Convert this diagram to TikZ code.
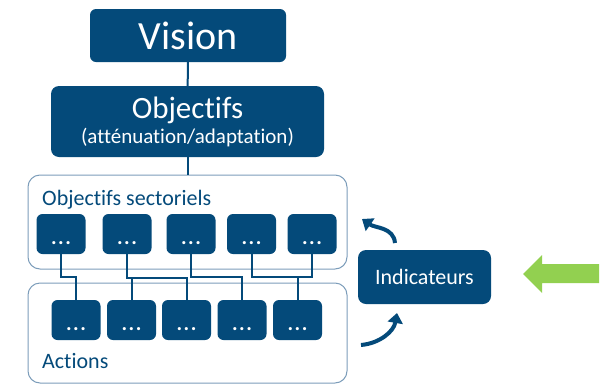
\documentclass[tikz,border=0pt]{standalone}
\usepackage{fontspec}
\setmainfont{Carlito}[Ligatures=NoCommon]
\usetikzlibrary{arrows.meta}
\definecolor{PlanBlue}{HTML}{044A7A}
\definecolor{PlanFrame}{HTML}{7C9DBA}
\definecolor{PlanGreen}{HTML}{92D050}

\begin{document}
\begin{tikzpicture}[x=1pt,y=-1pt,
    box/.style={fill=PlanBlue,text=white,rounded corners=6pt,align=center,inner sep=0pt},
    dots/.style={box,minimum width=49pt,minimum height=40pt,text height=20pt,text depth=0pt,
      font=\fontsize{21}{21}\selectfont\bfseries},
    frame/.style={draw=PlanFrame,line width=1pt,rounded corners=12pt,minimum width=319pt},
    heading/.style={anchor=base west,text=PlanBlue,inner sep=0pt,font=\fontsize{22}{22}\selectfont},
    link/.style={draw=PlanBlue,line width=2pt},
    loop/.style={-{Triangle[length=10pt,width=15pt]},draw=PlanBlue,line width=4pt}
  ]
  \useasboundingbox (0,0) rectangle (613,386);

  \node[box,minimum width=196pt,minimum height=53pt,font=\fontsize{40}{40}\selectfont]
    (vision) at (188,35.5) {Vision};
  \node[box,rounded corners=8pt,minimum width=273pt,minimum height=71pt,
    font=\fontsize{31}{31}\selectfont] (obj) at (187.5,121.5)
    {Objectifs\\[-6pt]{\fontsize{21}{24}\selectfont (atténuation/adaptation)}};
  \draw[link] (vision) -- (obj);

  % frames
  \node[frame,minimum height=94pt] (secframe) at (187.5,222) {};
  \node[frame,minimum height=100pt] (actframe) at (187.5,333) {};
  \node[heading] (sectext) at (42,205) {Objectifs sectoriels};
  \node[heading] (acttext) at (42,368) {Actions};
  \draw[link] (obj) -- (secframe);

  % sectoral objectives
  \node[dots] (t1) at (61,234) {.\kern1.5pt.\kern1.5pt.};
  \node[dots] (t2) at (127,234) {.\kern1.5pt.\kern1.5pt.};
  \node[dots] (t3) at (191,234) {.\kern1.5pt.\kern1.5pt.};
  \node[dots] (t4) at (251.5,234) {.\kern1.5pt.\kern1.5pt.};
  \node[dots] (t5) at (312,234) {.\kern1.5pt.\kern1.5pt.};
  % actions
  \node[dots] (b1) at (76,320) {.\kern1.5pt.\kern1.5pt.};
  \node[dots] (b2) at (131.5,320) {.\kern1.5pt.\kern1.5pt.};
  \node[dots] (b3) at (186.5,320) {.\kern1.5pt.\kern1.5pt.};
  \node[dots] (b4) at (242,320) {.\kern1.5pt.\kern1.5pt.};
  \node[dots] (b5) at (297.5,320) {.\kern1.5pt.\kern1.5pt.};

  \draw[link] (t1.south) -- ++(0,23) -| (b1.north);
  \draw[link] (t2.south) -- ++(0,24) coordinate (r2) -| (b3.north);
  \draw[link] (b2.north) -- (b2.north |- r2);
  \draw[link] (t3.south) -- ++(0,23) -| (b4.north);
  \draw[link] (t4.south) -- ++(0,23) coordinate (r4) -| (t5.south);
  \draw[link] (b5.north) -- (b5.north |- r4);

  % indicators
  \node[box,rounded corners=8pt,minimum width=133pt,minimum height=54pt,
    font=\fontsize{22}{22}\selectfont] (ind) at (424.5,277) {Indicateurs};
  \coordinate (up0) at (395,243);
  \coordinate (up1) at (362,219);
  \coordinate (dn0) at (361,345);
  \coordinate (dn1) at (397,313);
  \draw[loop] (up0) to[out=95,in=-35] (up1);
  \draw[loop] (dn0) to[out=5,in=-100] (dn1);

  \fill[PlanGreen] (599,264) -- (542,264) -- (542,255) -- (523,274)
    -- (542,293) -- (542,283) -- (599,283) -- cycle;
\end{tikzpicture}
\end{document}
